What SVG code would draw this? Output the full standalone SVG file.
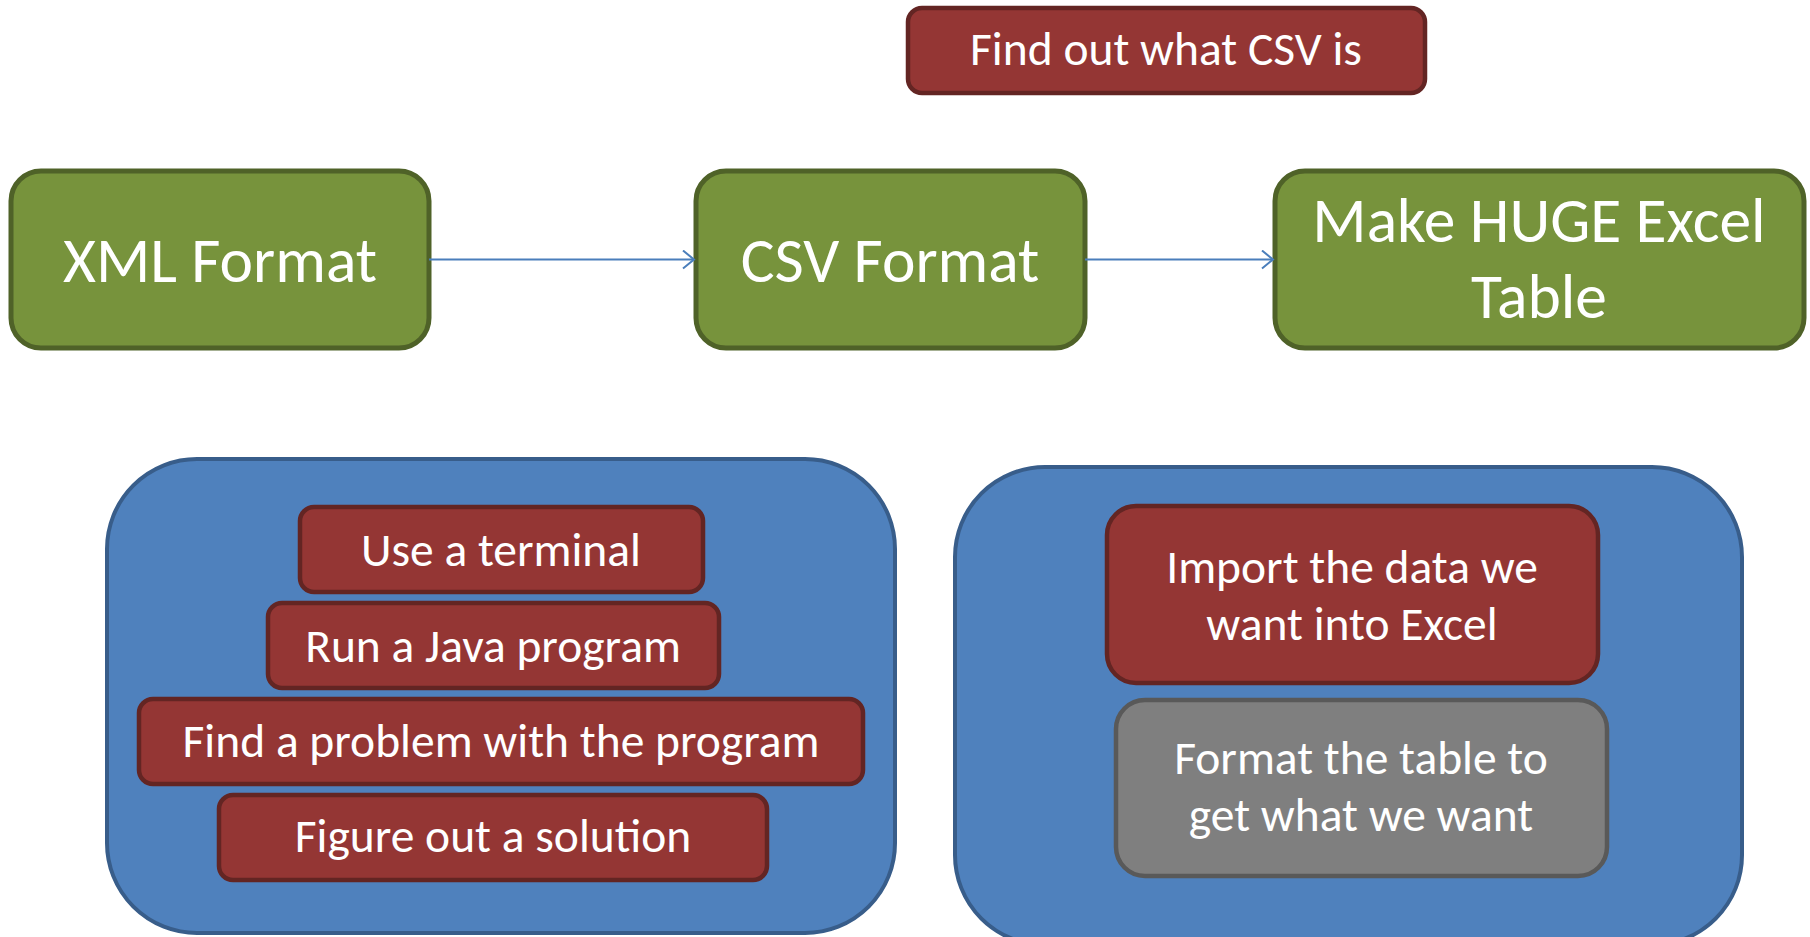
<svg xmlns="http://www.w3.org/2000/svg" width="1810" height="937" viewBox="0 0 1810 937">
<style>
text{font-family:Carlito,Lato,"Liberation Sans",sans-serif;fill:#fff;text-anchor:middle}
.g{fill:#77933C;stroke:#4F6228;stroke-width:5}
.r{fill:#943634;stroke:#632523;stroke-width:4.5}
.b{fill:#4F81BD;stroke:#385D8A;stroke-width:4}
.gr{fill:#7F7F7F;stroke:#595959;stroke-width:4.5}
.big{font-size:63.5px}
.sm{font-size:47.5px}
.conn{stroke:#4A7EBB;stroke-width:2;fill:none}
</style>
<defs>
<marker id="ah" markerWidth="14" markerHeight="20" refX="12" refY="10" orient="auto" markerUnits="userSpaceOnUse">
<path d="M1,1 L12,10 L1,19" fill="none" stroke="#4A7EBB" stroke-width="2"/>
</marker>
</defs>
<g id="find-csv"><rect class="r" x="908" y="8" width="517" height="85" rx="14"/><text class="sm" x="1166" y="65">Find out what CSV is</text></g>
<g id="xml"><rect class="g" x="11" y="171" width="418" height="177" rx="30"/><text class="big" x="220" y="282">XML Format</text></g>
<g id="csv"><rect class="g" x="696" y="171" width="389" height="177" rx="30"/><text class="big" x="890" y="282">CSV Format</text></g>
<g id="excel"><rect class="g" x="1275" y="171" width="529" height="177" rx="30"/><text class="big" x="1539" y="242">Make HUGE Excel</text><text class="big" x="1539" y="318">Table</text></g>
<g id="connectors">
<path class="conn" d="M429,259.5 H694" marker-end="url(#ah)"/>
<path class="conn" d="M1085,259.5 H1273" marker-end="url(#ah)"/>
</g>
<g id="left-group"><rect class="b" x="107" y="459" width="788" height="474" rx="90"/></g>
<g id="terminal"><rect class="r" x="300" y="507" width="403" height="85" rx="14"/><text class="sm" x="501" y="566">Use a terminal</text></g>
<g id="java"><rect class="r" x="268" y="603" width="451" height="85" rx="14"/><text class="sm" x="493" y="662">Run a Java program</text></g>
<g id="problem"><rect class="r" x="139" y="699" width="724" height="85" rx="14"/><text class="sm" x="501" y="757">Find a problem with the program</text></g>
<g id="solution"><rect class="r" x="219" y="795" width="548" height="85" rx="14"/><text class="sm" x="493" y="852">Figure out a solution</text></g>
<g id="right-group"><rect class="b" x="955" y="467" width="787" height="478" rx="90"/></g>
<g id="import"><rect class="r" x="1107" y="506" width="491" height="177" rx="29"/><text class="sm" x="1352" y="583">Import the data we</text><text class="sm" x="1352" y="640">want into Excel</text></g>
<g id="format"><rect class="gr" x="1116" y="700" width="491" height="176" rx="29"/><text class="sm" x="1361" y="774">Format the table to</text><text class="sm" x="1361" y="831">get what we want</text></g>
</svg>
